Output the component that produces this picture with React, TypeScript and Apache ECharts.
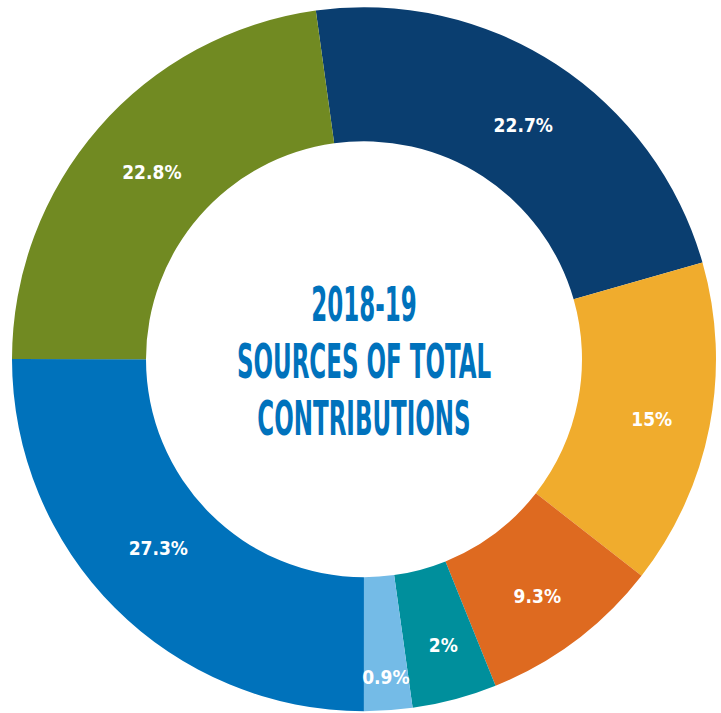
import React, { useEffect, useRef } from "react";
import * as echarts from "echarts";

// Slice shares as drawn, clockwise from the top
const categories = ["Dark blue", "Yellow", "Orange", "Teal", "Light blue", "Blue", "Green"];
const shares = [22.76, 14.97, 8.36, 3.89, 2.21, 25.0, 22.81];
// Printed percentage labels
const labelTexts = ["22.7%", "15%", "9.3%", "2%", "0.9%", "27.3%", "22.8%"];
const colors = ["#0a3e70", "#f0ac2d", "#de6a20", "#008f9c", "#74bbe7", "#0072bb", "#718a22"];
const titleLines = ["2018-19", "SOURCES OF TOTAL", "CONTRIBUTIONS"];

// label nudges (layout only)
const labelNudge: [number, number][] = [
  [2, 7], [5, 5], [0, 7], [5, 8], [2, 30], [-2, -15], [5, 2],
];

const FONT = "'DejaVu Sans Condensed', 'Liberation Sans', sans-serif";

export default function App() {
  const ref = useRef<HTMLDivElement>(null);
  useEffect(() => {
    if (!ref.current) return;
    const chart = echarts.init(ref.current, undefined, { renderer: "svg" });
    const cx = 364;
    const cy = 359.2;
    chart.setOption({
      animation: false,
      backgroundColor: "#ffffff",
      graphic: titleLines.map((t, i) => ({
        type: "text",
        x: cx,
        y: 304.5 + i * 57,
        scaleX: 0.71,
        scaleY: 1.35,
        style: {
          text: t,
          fill: "#0072bc",
          font: `bold 36px ${FONT}`,
          align: "center",
          verticalAlign: "middle",
        },
      })),
      series: [
        {
          type: "pie",
          center: [cx, cy],
          radius: [218, 352],
          startAngle: 97.87,
          clockwise: true,
          avoidLabelOverlap: false,
          itemStyle: { borderWidth: 0 },
          label: {
            show: true,
            position: "inside",
            color: "#ffffff",
            fontFamily: FONT,
            fontWeight: "bold",
            fontSize: 19,
          },
          labelLine: { show: false },
          emphasis: { disabled: true },
          data: categories.map((c, i) => ({
            name: c,
            value: shares[i],
            itemStyle: { color: colors[i] },
            label: { formatter: labelTexts[i], offset: labelNudge[i] },
          })),
        },
      ],
    });
    return () => chart.dispose();
  }, []);
  return (
    <div
      ref={ref}
      style={{ position: "fixed", left: 0, top: 0, width: 721, height: 713 }}
    />
  );
}
